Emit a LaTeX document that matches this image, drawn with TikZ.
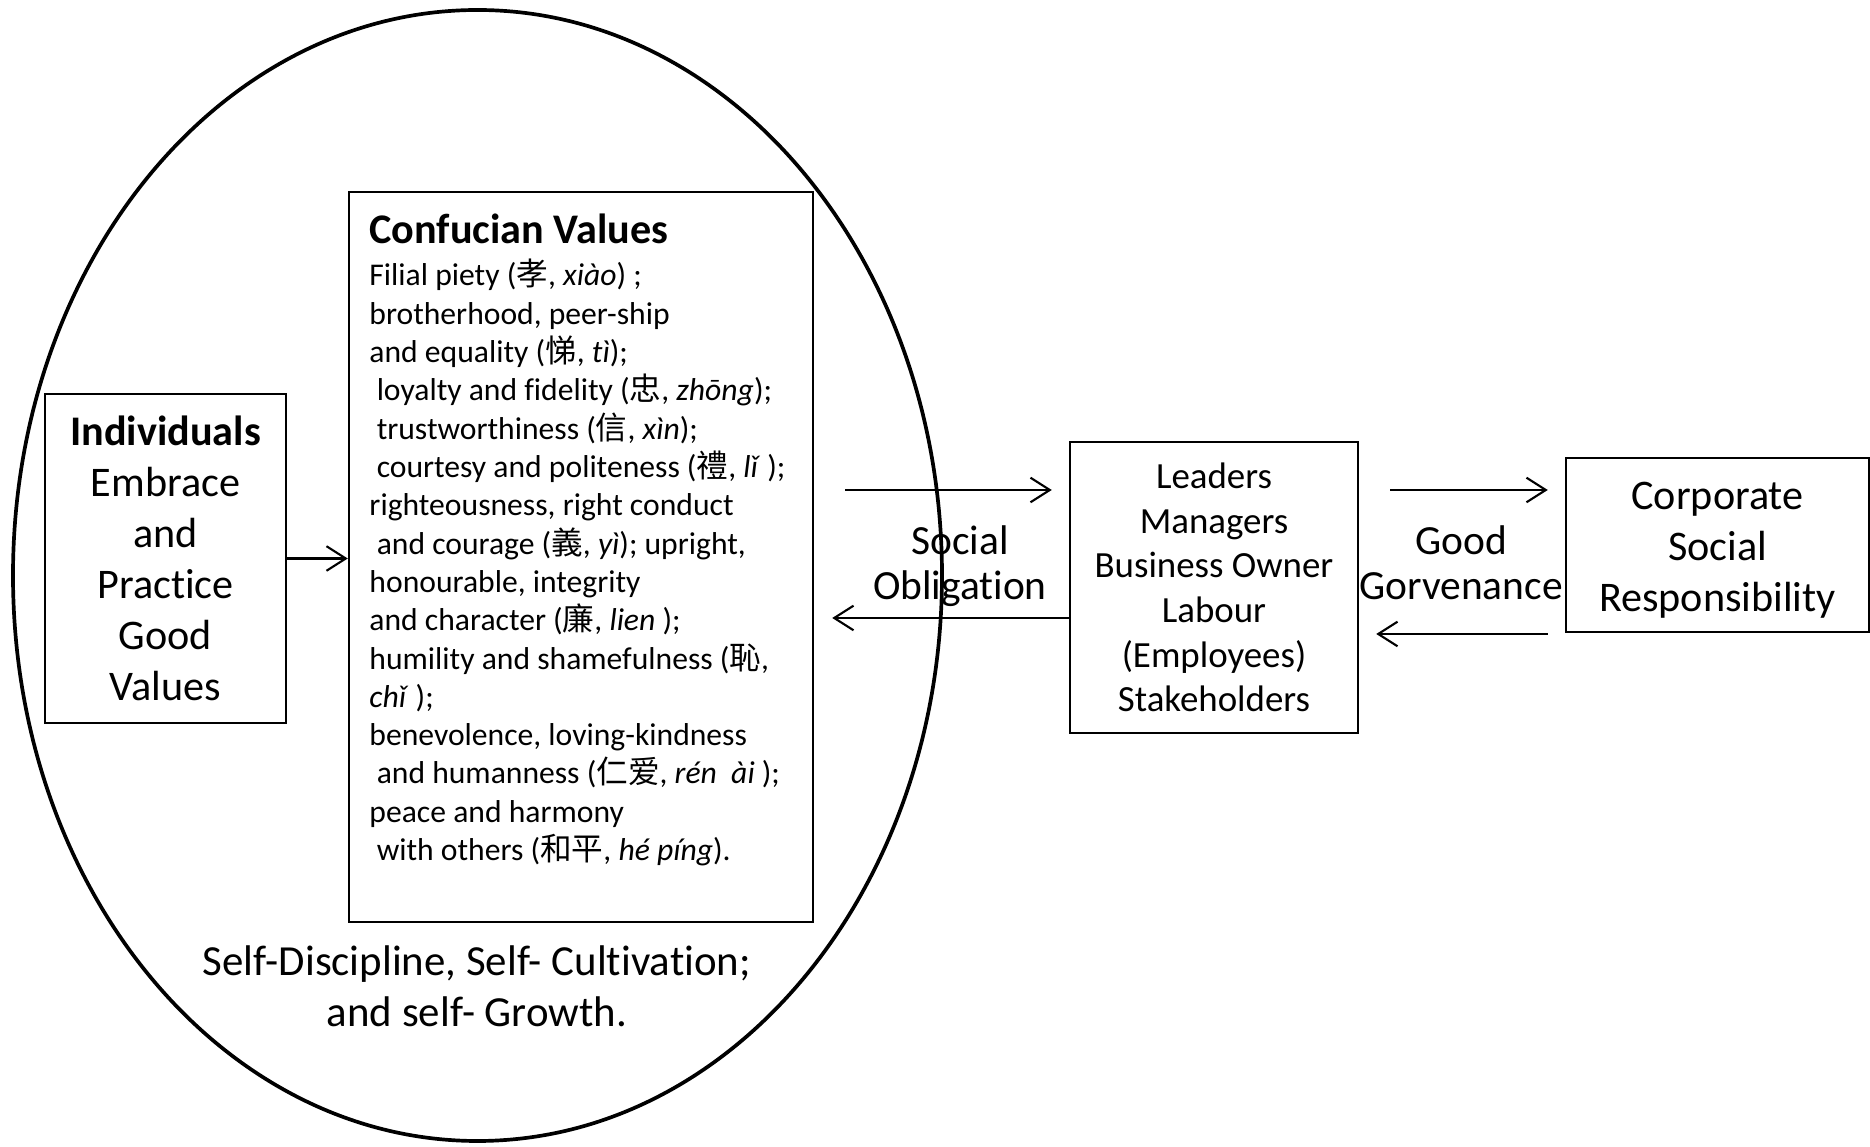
\documentclass[tikz,border=0pt]{standalone}
\usepackage{fontspec}
\setmainfont{Carlito}[Ligatures=CommonOff]
\newfontfamily\cjk{Noto Sans CJK SC}
\usetikzlibrary{arrows.meta}

\newcommand{\han}[1]{{\cjk #1}}
\newcommand{\ind}{\hspace*{.23em}}

\begin{document}
\begin{tikzpicture}[
    box/.style={draw, line width=0.7pt, inner sep=0pt},
    big/.style={font=\fontsize{12}{14.5}\selectfont, align=center},
    flow/.style={->, line width=0.6pt},
    >={Straight Barb[length=5.5pt,width=7pt]}]
    \useasboundingbox (0,0) rectangle (18.70,-11.47);
    % the self round the values
    \draw[line width=1.05pt] (4.775,-5.755) ellipse (4.645 and 5.655);
    \node[box, big, minimum width=2.41cm, minimum height=3.29cm] (ind) at (1.655,-5.585)
        {\textbf{Individuals}\\Embrace\\and\\Practice\\Good\\Values};
    \node[box, minimum width=4.64cm, minimum height=7.30cm] (conf) at (5.81,-5.57) {};
    \node[anchor=north west, align=left, inner sep=0pt, font=\fontsize{9}{10.9}\selectfont] (vals)
        at ([xshift=2.1mm,yshift=-2.2mm]conf.north west)
        {{\fontsize{12}{14}\selectfont\bfseries Confucian Values}\\[1.3pt]
         Filial piety (\han{孝}, \textit{xiào}) ;\\
         brotherhood, peer-ship\\
         and equality (\han{悌}, \textit{tì});\\
         \ind loyalty and fidelity (\han{忠}, \textit{zhōng});\\
         \ind trustworthiness (\han{信}, \textit{xìn});\\
         \ind courtesy and politeness (\han{禮}, \textit{lǐ} );\\
         righteousness, right conduct\\
         \ind and courage (\han{義}, \textit{yì}); upright,\\
         honourable, integrity\\
         and character (\han{廉}, \textit{lien} );\\
         humility and shamefulness (\han{恥},\\
         \textit{chǐ} );\\
         benevolence, loving-kindness\\
         \ind and humanness (\han{仁爱}, \textit{rén\ \ ài} );\\
         peace and harmony\\
         \ind with others (\han{和平}, \textit{hé píng}).};
    \node[big, font=\fontsize{12.2}{14.6}\selectfont] (self) at (4.77,-9.86)
        {Self-Discipline, Self- Cultivation;\\and self- Growth.};
    \node[box, align=center, font=\fontsize{10.5}{12.7}\selectfont,
        minimum width=2.88cm, minimum height=2.91cm] (lead) at (12.14,-5.875)
        {Leaders\\Managers\\Business Owner\\Labour\\(Employees)\\Stakeholders};
    \node[box, big, minimum width=3.03cm, minimum height=1.74cm] (csr) at (17.175,-5.45)
        {\rule{0pt}{10.5pt}Corporate\\Social\\Responsibility};
    \node[align=center, font=\fontsize{11.8}{12.8}\selectfont] (obl) at (9.60,-5.665) {Social\\Obligation};
    \node[align=center, font=\fontsize{11.8}{12.8}\selectfont] (gov) at (14.61,-5.63) {Good\\Gorvenance};
    % connectors
    \draw[flow] (ind.east) -- (conf.west |- ind.east);
    \draw[flow, shorten <=3.1mm, shorten >=1.7mm] (conf.east |- 0,-4.90) -- (lead.west |- 0,-4.90);
    \draw[flow, shorten >=1.8mm] (lead.west |- 0,-6.18) -- (conf.east |- 0,-6.18);
    \draw[flow, shorten <=3.1mm, shorten >=1.7mm] (lead.east |- 0,-4.90) -- (csr.west |- 0,-4.90);
    \draw[flow, shorten <=1.7mm, shorten >=1.7mm] (csr.west |- 0,-6.34) -- (lead.east |- 0,-6.34);
\end{tikzpicture}
\end{document}
